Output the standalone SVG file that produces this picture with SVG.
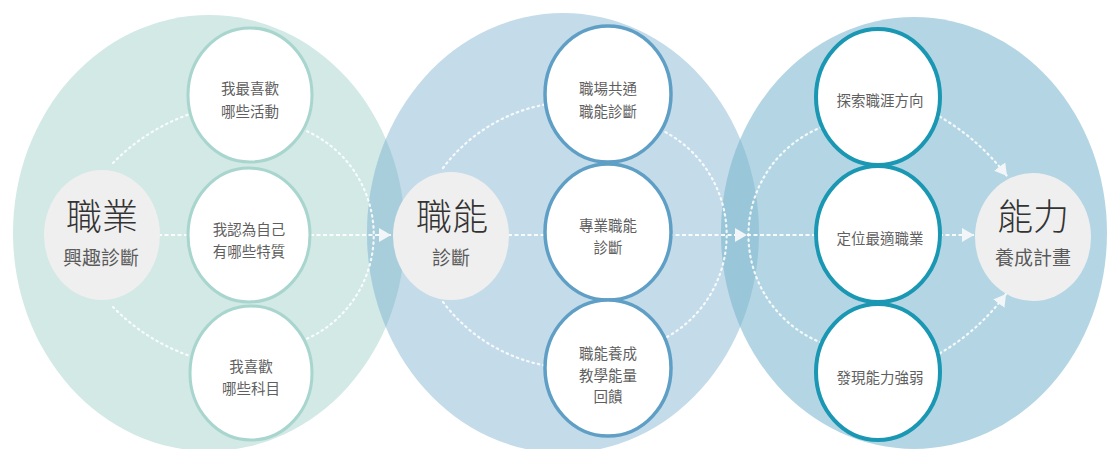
<svg xmlns="http://www.w3.org/2000/svg" width="1108" height="449" viewBox="0 0 1108 449">
<style>
text{font-family:"Noto Sans CJK TC","Noto Sans CJK SC",sans-serif;text-anchor:middle}
.big{font-size:36px;fill:#333;font-weight:300}
.sub{font-size:19px;fill:#5a5a5a}
.t{font-size:14.5px;fill:#5f5f5f}
.hub{fill:#efefef}
.n1{fill:#fff;stroke:#a8d5ce;stroke-width:3}
.n2{fill:#fff;stroke:#5f9fc5;stroke-width:3.5}
.n3{fill:#fff;stroke:#1a97b3;stroke-width:4}
.dot{fill:none;stroke:#fff;stroke-opacity:.85;stroke-width:2.2;stroke-dasharray:1.5 4;stroke-linecap:round}
.dash{fill:none;stroke:#fff;stroke-opacity:.9;stroke-width:2.2;stroke-dasharray:4 2.5}
</style>
<defs>
<marker id="ah" viewBox="0 0 10 10" refX="10" refY="5" markerUnits="userSpaceOnUse" markerWidth="12" markerHeight="14" orient="auto" preserveAspectRatio="none">
<path d="M0,0 L10,5 L0,10 z" fill="#f2f6f8"/>
</marker>
<clipPath id="c1"><ellipse cx="209" cy="233" rx="196" ry="218"/></clipPath>
<clipPath id="c2"><ellipse cx="563" cy="233" rx="196" ry="220"/></clipPath>
</defs>
<rect width="1108" height="449" fill="#fff"/>
<g id="backgrounds">
<ellipse cx="209" cy="233" rx="196" ry="218" fill="#d2e9e6"/>
<ellipse cx="563" cy="233" rx="196" ry="220" fill="#c4dbe9"/>
<ellipse cx="914" cy="233" rx="193" ry="216" fill="#b4d6e4"/>
<ellipse cx="563" cy="233" rx="196" ry="220" fill="#a8cedc" clip-path="url(#c1)"/>
<ellipse cx="914" cy="233" rx="193" ry="216" fill="#99c6d8" clip-path="url(#c2)"/>
</g>
<g id="connectors">
<path class="dot" d="M113,163 A200 200 0 0 1 190,114"/>
<path class="dot" d="M113,307 A200 200 0 0 0 190,356"/>
<path class="dot" d="M281,123 A114 114 0 0 1 281,347"/>
<path class="dot" d="M443,168 A166 166 0 0 1 548,104"/>
<path class="dot" d="M443,302 A166 166 0 0 0 548,366"/>
<path class="dot" d="M640,122 A117 117 0 0 1 640,348"/>
<path class="dot" d="M843,121 A116 116 0 0 0 843,349"/>
<path class="dot" d="M935,114 Q977,137 1007,176" marker-end="url(#ah)"/>
<path class="dot" d="M935,356 Q977,333 1006,294" marker-end="url(#ah)"/>
<path class="dash" d="M158,235 H190"/>
<path class="dash" d="M310,235 H391" marker-end="url(#ah)"/>
<path class="dash" d="M508,235 H547"/>
<path class="dash" d="M669,235 H747" marker-end="url(#ah)"/>
<path class="dash" d="M747,235 H818"/>
<path class="dash" d="M939,235 H974" marker-end="url(#ah)"/>
</g>
<g id="hub-interest">
<ellipse class="hub" cx="102" cy="235" rx="58" ry="65"/>
<text class="big" x="102" y="230">職業</text>
<text class="sub" x="101" y="265">興趣診斷</text>
</g>
<g id="n1a"><ellipse class="n1" cx="250" cy="95" rx="62" ry="67"/>
<text class="t" x="250" y="94">我最喜歡</text><text class="t" x="250" y="117">哪些活動</text></g>
<g id="n1b"><ellipse class="n1" cx="249" cy="235" rx="61" ry="67"/>
<text class="t" x="249" y="235">我認為自己</text><text class="t" x="249" y="257">有哪些特質</text></g>
<g id="n1c"><ellipse class="n1" cx="251" cy="373" rx="61" ry="67"/>
<text class="t" x="251" y="372">我喜歡</text><text class="t" x="251" y="394">哪些科目</text></g>
<g id="hub-skill">
<ellipse class="hub" cx="451" cy="236" rx="58" ry="64"/>
<text class="big" x="452" y="230">職能</text>
<text class="sub" x="451" y="265">診斷</text>
</g>
<g id="n2a"><ellipse class="n2" cx="608" cy="94" rx="63" ry="68"/>
<text class="t" x="608" y="94">職場共通</text><text class="t" x="608" y="117">職能診斷</text></g>
<g id="n2b"><ellipse class="n2" cx="608" cy="232" rx="63" ry="68"/>
<text class="t" x="608" y="231">專業職能</text><text class="t" x="608" y="253">診斷</text></g>
<g id="n2c"><ellipse class="n2" cx="608" cy="368" rx="63" ry="68"/>
<text class="t" x="608" y="359">職能養成</text><text class="t" x="608" y="381">教學能量</text><text class="t" x="608" y="402">回饋</text></g>
<g id="n3a"><ellipse class="n3" cx="878" cy="97" rx="62" ry="68"/>
<text class="t" x="880" y="106">探索職涯方向</text></g>
<g id="n3b"><ellipse class="n3" cx="878" cy="234" rx="62" ry="68"/>
<text class="t" x="880" y="244">定位最適職業</text></g>
<g id="n3c"><ellipse class="n3" cx="878" cy="372" rx="62" ry="68"/>
<text class="t" x="880" y="383">發現能力強弱</text></g>
<g id="hub-plan">
<ellipse class="hub" cx="1033" cy="237" rx="58" ry="64"/>
<text class="big" x="1033" y="230">能力</text>
<text class="sub" x="1033" y="265">養成計畫</text>
</g>
</svg>
